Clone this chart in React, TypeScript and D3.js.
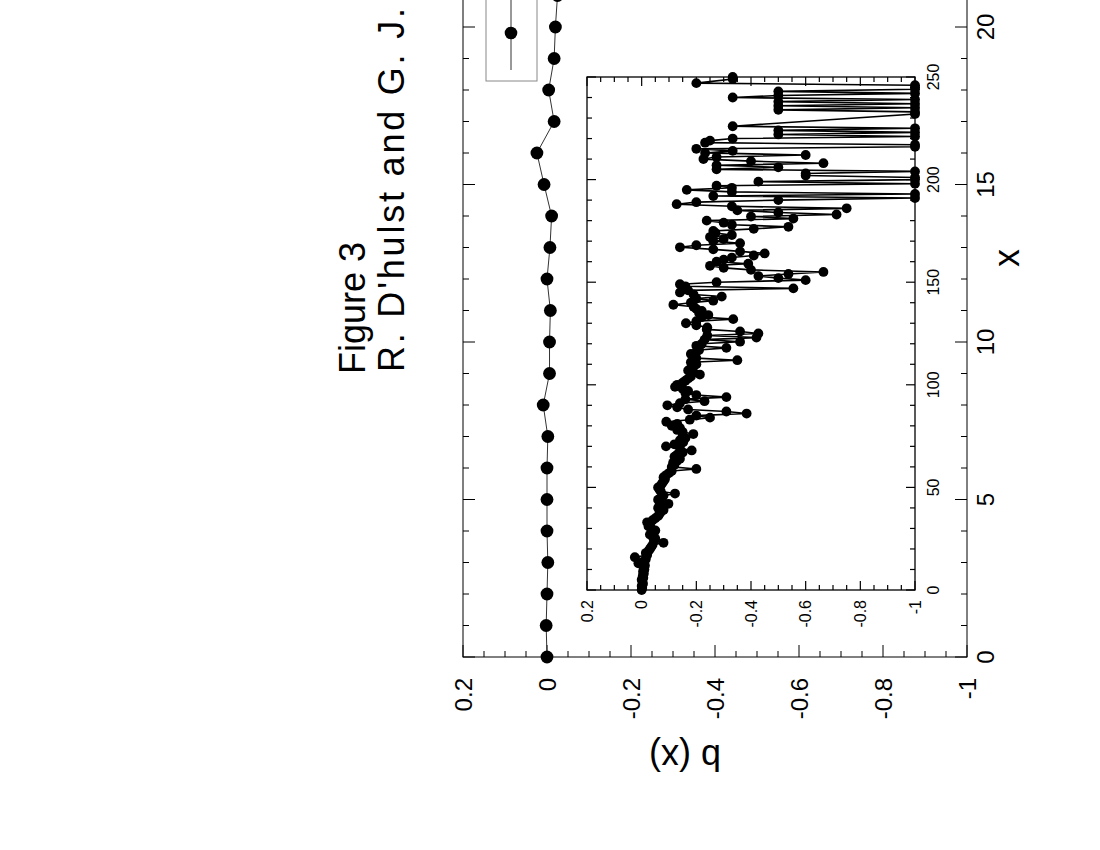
import React from 'react';
import * as d3 from 'd3';

// main plot: q(x) for x = 0..21
const mainX = [0, 1, 2, 3, 4, 5, 6, 7, 8, 9, 10, 11, 12, 13, 14, 15, 16, 17, 18, 19, 20, 21];
const mainQ = [0, 0.002, 0, -0.002, 0, 0, 0, -0.002, 0.009, -0.006, -0.006, -0.008, 0, -0.007, -0.011,
  0.007, 0.024, -0.017, -0.004, -0.017, -0.02, -0.025];

// inset: x = 0..226 every step, then a sparse tail
const insetHeadQ = [
  0, -0.002, 0, -0.005, -0.003, 0, -0.006, -0.004, -0.008, -0.005,
  -0.01, -0.007, -0.012, 0.012, -0.01, -0.015, 0.025, -0.02, -0.015, -0.025,
  -0.03, -0.035, -0.04, -0.08, -0.045, -0.05, -0.04, -0.03, -0.045, -0.05,
  -0.035, -0.025, -0.03, -0.02, -0.04, -0.05, -0.06, -0.065, -0.07, -0.08,
  -0.06, -0.065, -0.098, -0.07, -0.06, -0.075, -0.08, -0.122, -0.07, -0.065,
  -0.06, -0.07, -0.075, -0.08, -0.085, -0.08, -0.09, -0.1, -0.11, -0.2,
  -0.11, -0.12, -0.115, -0.13, -0.14, -0.12, -0.13, -0.15, -0.183, -0.14,
  -0.089, -0.12, -0.152, -0.14, -0.16, -0.15, -0.189, -0.15, -0.13, -0.14,
  -0.11, -0.13, -0.09, -0.176, -0.25, -0.2, -0.384, -0.31, -0.17, -0.13,
  -0.094, -0.14, -0.23, -0.16, -0.31, -0.2, -0.16, -0.17, -0.15, -0.122,
  -0.13, -0.15, -0.16, -0.17, -0.18, -0.213, -0.19, -0.17, -0.18, -0.19,
  -0.2, -0.18, -0.35, -0.2, -0.19, -0.18, -0.2, -0.21, -0.31, -0.2,
  -0.22, -0.36, -0.23, -0.42, -0.24, -0.427, -0.36, -0.238, -0.24, -0.2,
  -0.162, -0.2, -0.335, -0.22, -0.244, -0.21, -0.22, -0.2, -0.19, -0.116,
  -0.18, -0.262, -0.2, -0.293, -0.19, -0.14, -0.17, -0.555, -0.16, -0.14,
  -0.274, -0.6, -0.5, -0.427, -0.537, -0.665, -0.4, -0.3, -0.25, -0.39,
  -0.274, -0.3, -0.33, -0.41, -0.45, -0.36, -0.262, -0.14, -0.2, -0.36,
  -0.262, -0.3, -0.25, -0.33, -0.27, -0.262, -0.41, -0.537, -0.33, -0.3,
  -0.238, -0.555, -0.4, -0.713, -0.5, -0.35, -0.75, -0.33, -0.128, -0.2,
  -0.5, -1, -0.262, -1, -0.33, -0.165, -0.33, -0.274, -1, -0.427,
  -1, -1, -0.6, -0.6, -1, -0.274, -0.5, -0.274, -0.665, -0.4,
  -0.226, -0.274, -0.6, -0.232, -0.333, -0.2, -1, -1, -0.232, -0.25,
  -0.333, -1, -0.5, -1, -0.5, -1, -0.333,
];
const insetTailX = [232, 233, 234, 235, 236, 237, 238, 239, 240, 241, 242, 243, 244, 245, 246, 247, 249, 250];
const insetTailQ = [-1, -1, -0.5, -1, -0.5, -1, -0.5, -1, -0.333, -0.5, -1, -0.5, -1, -1, -1, -0.2, -0.333, -0.333];

const mainXTicks = [0, 5, 10, 15, 20];
const insetXTicks = [0, 50, 100, 150, 200, 250];
const qTicks = [0.2, 0, -0.2, -0.4, -0.6, -0.8, -1];

const W = 1100;
const H = 850;
const FONT = '"Liberation Sans", Arial, Helvetica, sans-serif';

const fmt = (v: number) => String(+v.toFixed(2));

type Frame = {
  x: d3.ScaleLinear<number, number>;
  q: d3.ScaleLinear<number, number>;
  xStep: number; xMajor: number;
  major: number; minor: number;
};

// ticks on all four sides, pointing inward (drawn in the unrotated frame)
function frameTicks({ x, q, xStep, xMajor, major, minor }: Frame) {
  const [x0, x1] = x.range();
  const [q0, q1] = q.range(); // q0 = bottom (larger), q1 = top
  const out: JSX.Element[] = [];
  const [dx0, dx1] = x.domain();
  d3.range(dx0, dx1 + 1e-9, xStep).forEach((v, i) => {
    const px = x(v);
    const len = Math.abs(v % xMajor) < 1e-6 ? major : minor;
    out.push(<line key={'xb' + i} x1={px} x2={px} y1={q0} y2={q0 - len} />);
    out.push(<line key={'xt' + i} x1={px} x2={px} y1={q1} y2={q1 + len} />);
  });
  d3.range(-1, 0.2 + 1e-9, 0.05).forEach((v, i) => {
    const py = q(v);
    const isMajor = Math.abs(Math.round(v * 5) - v * 5) < 1e-6;
    const len = isMajor ? major : minor;
    out.push(<line key={'ql' + i} x1={x0} x2={x0 + len} y1={py} y2={py} />);
    out.push(<line key={'qr' + i} x1={x1} x2={x1 - len} y1={py} y2={py} />);
  });
  return out;
}

export default function App() {
  // everything is drawn as a landscape figure, then turned a quarter turn
  const mx = d3.scaleLinear().domain([0, 25]).range([193, 193 + 25 * 31.5]);
  const mq = d3.scaleLinear().domain([-1, 0.2]).range([967, 463]);

  const ix = d3.scaleLinear().domain([0, 250]).range([260, 773]);
  const iq = d3.scaleLinear().domain([-1, 0.2]).range([915, 587]);

  const mainPts = mainX.map((v, i) => [v, mainQ[i]] as [number, number]);
  const insetPts = insetHeadQ.map((v, i) => [i, v] as [number, number])
    .concat(insetTailX.map((v, i) => [v, insetTailQ[i]] as [number, number]));

  const mainLine = d3.line<[number, number]>().x(d => mx(d[0])).y(d => mq(d[1]));
  const insetLine = d3.line<[number, number]>().x(d => ix(d[0])).y(d => iq(d[1]));

  return (
    <svg width={W} height={H} style={{ position: 'absolute', left: 0, top: 0, background: '#fff' }}
      fontFamily={FONT}>
      <rect width={W} height={H} fill="#fff" />
      <g transform={`translate(0,${H}) rotate(-90)`}>
        {/* title */}
        <text x={476} y={365} fontSize={36}>Figure 3</text>
        <text x={478} y={404} fontSize={36} textLength={364} lengthAdjust="spacing">R. D'hulst and G. J.</text>

        {/* main frame */}
        <rect x={mx(0)} y={mq(0.2)} width={mx(25) - mx(0)} height={mq(-1) - mq(0.2)}
          fill="none" stroke="#000" strokeWidth={1} />
        <g stroke="#000" strokeWidth={1}>
          {frameTicks({ x: mx, q: mq, xStep: 1, xMajor: 5, major: 12, minor: 6 })}
        </g>
        {qTicks.map(v => (
          <text key={'mq' + v} x={172} y={mq(v)} fontSize={24} textAnchor="end" dominantBaseline="central">{fmt(v)}</text>
        ))}
        {mainXTicks.map(v => (
          <text key={'mx' + v} x={mx(v)} y={994} fontSize={24} textAnchor="middle">{v}</text>
        ))}
        <text x={592} y={1019} fontSize={36} textAnchor="middle">x</text>
        <text transform="translate(93,685) rotate(-90)" fontSize={36} textAnchor="middle"
          dominantBaseline="central">b (x)</text>

        {/* legend */}
        <rect x={769} y={486} width={320} height={51} fill="none" stroke="#888" strokeWidth={1} />
        <line x1={780} x2={854} y1={511} y2={511} stroke="#333" strokeWidth={1} />
        <circle cx={817} cy={511} r={6.3} fill="#000" />

        {/* main series */}
        <path d={mainLine(mainPts) || ''} fill="none" stroke="#333" strokeWidth={1} />
        {mainPts.map((d, i) => (
          <circle key={'mp' + i} cx={mx(d[0])} cy={mq(d[1])} r={6.4} fill="#000" />
        ))}

        {/* inset */}
        <rect x={ix(0)} y={iq(0.2)} width={ix(250) - ix(0)} height={iq(-1) - iq(0.2)}
          fill="#fff" stroke="#000" strokeWidth={1.3} />
        <g stroke="#000" strokeWidth={1.2}>
          {frameTicks({ x: ix, q: iq, xStep: 10, xMajor: 50, major: 9, minor: 5 })}
        </g>
        {qTicks.map(v => (
          <text key={'iq' + v} x={250} y={iq(v)} fontSize={16} textAnchor="end" dominantBaseline="central">{fmt(v)}</text>
        ))}
        {insetXTicks.map(v => (
          <text key={'ix' + v} x={ix(v)} y={939} fontSize={16} textAnchor="middle">{v}</text>
        ))}
        <path d={insetLine(insetPts) || ''} fill="none" stroke="#000" strokeWidth={1.6} />
        {insetPts.map((d, i) => (
          <circle key={'ip' + i} cx={ix(d[0])} cy={iq(d[1])} r={4.9} fill="#000" />
        ))}
      </g>
    </svg>
  );
}
